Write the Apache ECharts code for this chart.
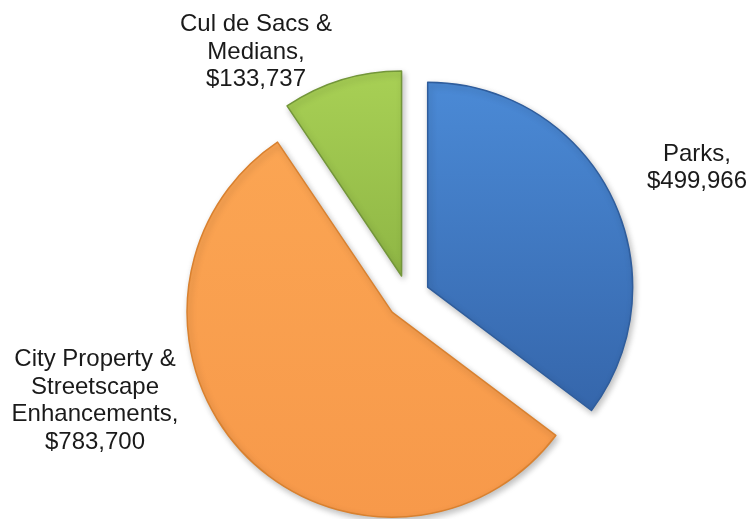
<!DOCTYPE html>
<html>
<head>
<meta charset="utf-8">
<script src="https://cdn.jsdelivr.net/npm/echarts@6/dist/echarts.min.js"></script>
<style>
  html, body { margin: 0; padding: 0; background: #fff; }
  #chart { width: 752px; height: 519px; }
</style>
</head>
<body>
<div id="chart"></div>
<script>
// slice data, clockwise from 12 o'clock
const categories = ['Parks', 'City Property &\nStreetscape\nEnhancements', 'Cul de Sacs &\nMedians']
const values = [499966, 783700, 133737]

const sliceColors = [
  ['#4b8ad6', '#3566ab', '#2f5d9c'],
  ['#fba553', '#f7994a', '#d9812f'],
  ['#a8d055', '#8fb645', '#73963a']
]
// label text block centres
const labelPos = [[697, 168], [95, 401], [256, 52]]

const chart = echarts.init(document.getElementById('chart'))

const fmt = v => '$' + v.toLocaleString('en-US')

chart.setOption({
  animation: false,
  // labels sit at fixed spots next to the slices, no leader lines
  graphic: categories.map((name, i) => ({
    type: 'text',
    x: labelPos[i][0],
    y: labelPos[i][1],
    style: {
      text: name + ',\n' + fmt(values[i]),
      font: '24px "Liberation Sans", Arial, sans-serif',
      lineHeight: 27.5,
      fill: '#1a1a1a',
      align: 'center',
      verticalAlign: 'middle'
    }
  })),
  series: [{
    type: 'pie',
    center: [408, 297],
    radius: 205,
    startAngle: 90,
    clockwise: true,
    selectedMode: 'multiple',
    selectedOffset: 22,
    emphasis: { disabled: true },
    label: { show: false },
    labelLine: { show: false },
    data: categories.map((name, i) => ({
      name: name,
      value: values[i],
      selected: true,
      itemStyle: {
        color: new echarts.graphic.LinearGradient(0, 0, 0, 1, [
          { offset: 0, color: sliceColors[i][0] },
          { offset: 1, color: sliceColors[i][1] }
        ]),
        borderColor: sliceColors[i][2],
        borderWidth: 1.5,
        shadowColor: 'rgba(0,0,0,0.25)',
        shadowBlur: 6,
        shadowOffsetX: 2,
        shadowOffsetY: 3
      }
    }))
  }]
})
</script>
</body>
</html>
